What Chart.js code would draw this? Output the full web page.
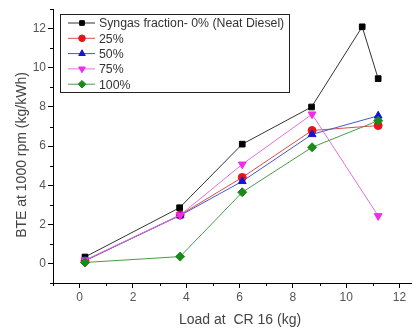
<!DOCTYPE html>
<html>
<head>
<meta charset="utf-8">
<script src="https://cdn.jsdelivr.net/npm/chart.js@4/dist/chart.umd.min.js"></script>
<style>
  html, body { margin: 0; padding: 0; background: #fff; }
  #wrap { width: 417px; height: 330px; }
</style>
</head>
<body>
<div id="wrap"><canvas id="c" width="417" height="330"></canvas></div>
<script>
// Load (kg) at which each series was measured
const loadsDiesel = [0.2, 3.75, 6.1, 8.7, 10.6, 11.2];
const loadsSyngas = [0.2, 3.77, 6.1, 8.72, 11.2];

// Brake thermal efficiency per syngas fraction
const seriesNames = ['Syngas fraction- 0% (Neat Diesel)', '25%', '50%', '75%', '100%'];
const bte0   = [0.33, 2.85, 6.1, 8.0, 12.1, 9.45];
const bte25  = [0.13, 2.48, 4.4, 6.8, 7.05];
const bte50  = [0.15, 2.45, 4.2, 6.6, 7.55];
const bte75  = [0.17, 2.47, 5.07, 7.63, 2.43];
const bte100 = [0.05, 0.35, 3.64, 5.94, 7.3];

// Axis ticks
const xTicks = [0, 2, 4, 6, 8, 10, 12];
const yTicks = [0, 2, 4, 6, 8, 10, 12];

const colors = ['#000000', '#e8141b', '#1515d6', '#ee2bee', '#1a8a1a'];
const lineColors = ['#333333', '#d5504a', '#4a56c8', '#e070e0', '#4a9a4a'];
const shapes = ['rect', 'circle', 'triangle', 'triangle', 'rectRot'];
const rotations = [0, 0, 0, 180, 0];
const radii = [4, 4, 4.5, 4.5, 4.5];

const xs = [loadsDiesel, loadsSyngas, loadsSyngas, loadsSyngas, loadsSyngas];
const ys = [bte0, bte25, bte50, bte75, bte100];

const datasets = ys.map((vals, i) => ({
  label: seriesNames[i],
  data: vals.map((v, k) => ({ x: xs[i][k], y: v })),
  borderColor: lineColors[i],
  backgroundColor: colors[i],
  pointBackgroundColor: colors[i],
  pointBorderColor: colors[i],
  pointStyle: shapes[i],
  rotation: rotations[i],
  pointRadius: radii[i],
  pointBorderWidth: 1,
  borderWidth: 1,
  tension: 0,
  order: 5 - i
}));

const FONT = 'Liberation Sans, Arial, sans-serif';

// Minor ticks, axis titles and framed legend
const decor = {
  id: 'decor',
  afterDraw(chart) {
    const ctx = chart.ctx;
    const xs = chart.scales.x, ys = chart.scales.y;
    const area = chart.chartArea;
    ctx.save();
    ctx.strokeStyle = '#000';
    ctx.lineWidth = 1;
    ctx.beginPath();
    for (let v = -1; v <= 12; v += 1) {
      if (v % 2 === 0) continue;
      const px = Math.round(xs.getPixelForValue(v)) + 0.5;
      ctx.moveTo(px, area.bottom);
      ctx.lineTo(px, area.bottom + 3);
    }
    for (let v = -1; v <= 13; v += 1) {
      if (v % 2 === 0) continue;
      const py = Math.round(ys.getPixelForValue(v)) + 0.5;
      ctx.moveTo(area.left, py);
      ctx.lineTo(area.left - 3, py);
    }
    ctx.stroke();

    // axis titles
    ctx.fillStyle = '#444';
    ctx.font = '14px ' + FONT;
    ctx.textAlign = 'center';
    ctx.textBaseline = 'middle';
    ctx.fillText('Load at  CR 16 (kg)', 240, 320);
    ctx.save();
    ctx.translate(22, 155);
    ctx.rotate(-Math.PI / 2);
    ctx.fillText('BTE at 1000 rpm (kg/kWh)', 0, 0);
    ctx.restore();

    // legend
    const bx = 60.5, by = 14.5, bw = 229, bh = 78;
    ctx.fillStyle = '#fff';
    ctx.fillRect(bx, by, bw, bh);
    ctx.strokeStyle = '#222';
    ctx.strokeRect(bx, by, bw, bh);
    ctx.textAlign = 'left';
    ctx.font = '12.3px ' + FONT;
    chart.data.datasets.forEach((ds, i) => {
      const cy = 23 + i * 15.3;
      ctx.strokeStyle = ds.borderColor;
      ctx.beginPath();
      ctx.moveTo(68, cy);
      ctx.lineTo(95, cy);
      ctx.stroke();
      ctx.fillStyle = ds.pointBackgroundColor;
      ctx.strokeStyle = ds.pointBorderColor;
      Chart.helpers.drawPoint(ctx, {
        pointStyle: ds.pointStyle,
        rotation: ds.rotation,
        radius: ds.pointRadius - 0.7,
        borderWidth: 1
      }, 82, cy);
      ctx.fillStyle = '#333';
      ctx.fillText(ds.label, 99, cy + 1);
    });
    ctx.restore();
  }
};

new Chart(document.getElementById('c'), {
  type: 'line',
  data: { datasets },
  options: {
    responsive: false,
    animation: false,
    devicePixelRatio: 1,
    layout: { padding: { top: 5, right: 5, left: 0, bottom: 0 } },
    plugins: { legend: { display: false }, tooltip: { enabled: false } },
    scales: {
      x: {
        type: 'linear',
        min: -1,
        max: 12.45,
        afterFit(s) { s.height = 47; },
        afterBuildTicks(s) { s.ticks = xTicks.map(v => ({ value: v })); },
        border: { display: true, color: '#000', width: 1 },
        grid: { drawOnChartArea: false, drawTicks: true, tickLength: 5, color: '#000' },
        ticks: { color: '#555', font: { size: 12, family: FONT }, padding: 2, maxRotation: 0 }
      },
      y: {
        type: 'linear',
        min: -1,
        max: 13,
        afterFit(s) { s.width = 53; },
        afterBuildTicks(s) { s.ticks = yTicks.map(v => ({ value: v })); },
        border: { display: true, color: '#000', width: 1 },
        grid: { drawOnChartArea: false, drawTicks: true, tickLength: 5, color: '#000' },
        ticks: { color: '#555', font: { size: 12, family: FONT }, padding: 2 }
      }
    }
  },
  plugins: [decor]
});
</script>
</body>
</html>
